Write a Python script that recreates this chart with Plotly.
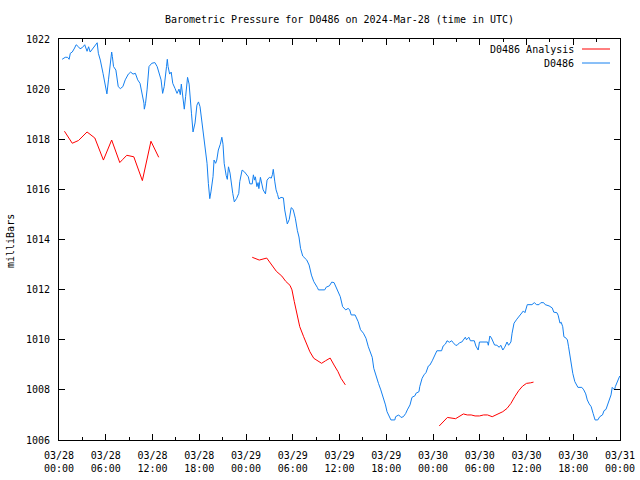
import pandas as pd
import plotly.graph_objects as go

BASE = pd.Timestamp("2024-03-28 00:00")

# Blue series: D0486 (hours since 2024-03-28 00:00 UTC, pressure in mb)
obs_hours = [0.4, 0.8, 1.1, 1.3, 1.45, 1.7, 2.0, 2.2, 2.5, 2.7, 3.0, 3.3, 3.6, 3.8, 4.0, 4.3, 4.6, 4.9,
             5.05, 5.3, 5.65, 5.9, 6.15, 6.35, 6.6, 6.76, 6.85, 7.0, 7.3, 7.45, 7.6, 7.87, 8.2, 8.5, 8.9,
             9.2, 9.5, 9.8, 10.1, 10.4, 10.7, 10.9, 10.95, 11.1, 11.3, 11.55, 11.9, 12.3, 12.6, 12.9,
             13.1, 13.3, 13.5, 13.8, 13.9, 14.0, 14.2, 14.4, 14.6, 14.9, 15.15, 15.4, 15.57, 15.7, 15.9,
             16.08, 16.25, 16.4, 16.5, 16.7, 16.86, 17.0, 17.2, 17.46, 17.7, 17.9, 18.1, 18.25, 18.5,
             18.65, 19.0, 19.17, 19.35, 19.5, 19.77, 19.9, 20.1, 20.25, 20.45, 20.7, 20.9, 21.05, 21.2,
             21.45, 21.6, 21.75, 21.95, 22.3, 22.5, 22.8, 23.07, 23.2, 23.5, 23.8, 24.1, 24.3, 24.5,
             24.8, 24.95, 25.1, 25.2, 25.4, 25.55, 25.65, 25.85, 26.0, 26.2, 26.5, 26.7, 27.0, 27.25,
             27.4, 27.5, 27.7, 27.86, 28.05, 28.2, 28.5, 28.8, 28.97, 29.14, 29.3, 29.55, 29.8, 30.05,
             30.33, 30.6, 30.8, 31.0, 31.28, 31.8, 32.1, 32.4, 32.7, 33.15, 33.3, 34.1, 34.3, 34.7,
             35.0, 35.3, 35.6, 36.1, 36.4, 36.8, 37.1, 37.3, 37.5, 38.0, 38.4, 38.7, 39.07, 39.4, 39.7,
             39.9, 40.2, 40.4, 40.7, 41.0, 41.3, 41.6, 41.9, 42.1, 42.4, 42.6, 43.1, 43.2, 43.6, 43.9,
             44.2, 44.5, 44.7, 45.05, 45.3, 45.7, 45.8, 46.2, 46.3, 46.6, 46.85, 47.1, 47.4, 47.6, 47.9,
             48.1, 48.5, 49.1, 49.3, 49.6, 49.8, 50.1, 50.4, 50.6, 50.9, 51.1, 51.4, 51.7, 52.0, 52.15,
             52.3, 52.6, 52.8, 53.3, 53.5, 53.8, 53.96, 54.5, 55.0, 55.1, 55.3, 55.5, 55.75, 55.9, 56.2,
             56.5, 56.7, 56.96, 57.2, 57.5, 57.7, 58.0, 58.15, 58.4, 58.76, 59.1, 59.4, 59.6, 59.8, 60.1,
             60.7, 61.0, 61.3, 61.6, 61.84, 62.2, 62.4, 62.9, 63.3, 63.5, 63.9, 64.06, 64.3, 64.45,
             64.65, 64.8, 65.1, 65.25, 65.4, 65.6, 65.76, 65.94, 66.2, 66.45, 66.6, 67.1, 67.35, 67.6,
             67.8, 68.05, 68.3, 68.55, 68.8, 69.15, 69.4, 69.75, 69.95, 70.2, 70.5, 70.7, 70.85, 71.0,
             71.3, 71.4, 71.7, 71.96]
obs_values = [1021.19, 1021.27, 1021.27, 1021.19, 1021.43, 1021.48, 1021.64, 1021.77, 1021.69, 1021.61,
              1021.66, 1021.77, 1021.51, 1021.69, 1021.48, 1021.6, 1021.72, 1021.85, 1021.43, 1021.16,
              1020.63, 1020.23, 1019.81, 1020.37, 1021.16, 1021.48, 1021.3, 1020.9, 1020.76, 1020.37,
              1020.1, 1020.02, 1020.1, 1020.37, 1020.6, 1020.68, 1020.6, 1020.63, 1020.37, 1020.23,
              1019.83, 1019.44, 1019.2, 1019.42, 1019.97, 1020.9, 1021.03, 1021.06, 1020.9, 1020.63,
              1020.37, 1019.83, 1020.1, 1020.9, 1021.19, 1020.9, 1020.6, 1020.68, 1020.23, 1020.02,
              1019.83, 1020.0, 1019.78, 1020.2, 1019.57, 1019.2, 1019.7, 1020.2, 1020.47, 1020.2,
              1019.7, 1019.04, 1018.29, 1018.65, 1019.36, 1019.49, 1019.3, 1018.88, 1018.37, 1017.84,
              1017.04, 1016.24, 1015.63, 1015.9, 1016.51, 1017.17, 1017.04, 1017.17, 1017.57, 1017.8,
              1018.08, 1017.8, 1017.04, 1016.56, 1016.4, 1016.9, 1016.65, 1015.84, 1015.5, 1015.64,
              1015.84, 1016.31, 1016.77, 1016.7, 1016.58, 1016.5, 1016.22, 1016.22, 1016.58, 1016.37,
              1016.5, 1016.11, 1016.27, 1016.03, 1016.48, 1016.2, 1015.98, 1015.82, 1016.37, 1016.48,
              1016.45, 1016.6, 1016.8, 1016.3, 1015.98, 1015.8, 1015.62, 1015.68, 1015.66, 1015.18,
              1014.78, 1014.62, 1014.8, 1015.27, 1015.2, 1014.85, 1014.35, 1014.1, 1013.65, 1013.34,
              1013.18, 1012.98, 1012.58, 1012.32, 1012.09, 1011.99, 1011.99, 1012.1, 1012.15, 1012.3,
              1012.28, 1012.04, 1011.72, 1011.32, 1011.19, 1011.25, 1011.2, 1010.99, 1010.99, 1010.72,
              1010.4, 1010.26, 1010.06, 1009.72, 1009.52, 1009.3, 1008.86, 1008.53, 1008.26, 1008.0,
              1007.73, 1007.4, 1007.13, 1006.9, 1006.8, 1006.8, 1006.93, 1007.0, 1006.9, 1006.93,
              1007.06, 1007.2, 1007.4, 1007.7, 1007.77, 1007.86, 1007.93, 1008.13, 1008.46, 1008.6,
              1008.69, 1008.95, 1008.99, 1009.16, 1009.3, 1009.56, 1009.56, 1009.75, 1009.83, 1009.96,
              1009.9, 1009.96, 1009.88, 1009.78, 1009.78, 1009.88, 1009.91, 1010.04, 1010.1, 1010.0,
              1010.1, 1009.96, 1009.96, 1009.75, 1009.59, 1009.91, 1009.91, 1009.91, 1009.78, 1010.15,
              1010.07, 1009.91, 1009.79, 1009.78, 1009.7, 1009.78, 1009.59, 1009.7, 1009.91, 1009.78,
              1009.91, 1010.26, 1010.66, 1010.82, 1010.95, 1011.08, 1011.15, 1011.08, 1011.4, 1011.4,
              1011.48, 1011.4, 1011.4, 1011.48, 1011.48, 1011.4, 1011.35, 1011.27, 1011.1, 1011.08,
              1010.98, 1010.66, 1010.7, 1010.52, 1010.12, 1010.06, 1009.99, 1009.72, 1009.32, 1008.92,
              1008.66, 1008.33, 1008.15, 1008.1, 1008.1, 1008.0, 1007.84, 1007.6, 1007.44, 1007.33,
              1007.06, 1006.8, 1006.8, 1006.93, 1007.0, 1007.17, 1007.22, 1007.46, 1007.6, 1007.8,
              1008.1, 1008.0, 1008.13, 1008.33, 1008.55]

# Red series: D0486 Analysis (None marks gaps between segments)
ana_hours = [0.7, 1.7, 2.5, 3.6, 4.6, 5.7, 6.76, 7.8, 8.2, 8.7, 9.6, 10.7, 11.8, 12.8,
             13.5,
             24.8, 25.7, 26.66, 27.5, 27.9, 28.6, 29.1, 29.65, 29.9, 30.2, 30.5, 30.9, 31.4, 31.8,
             32.2, 32.7, 33.15, 33.7, 34.2, 34.8, 35.3, 35.8, 36.2, 36.75,
             42.0,
             48.8, 49.3, 49.85, 50.9, 51.4, 51.9, 52.4, 52.9, 53.4, 53.96, 54.5, 55.0, 55.6, 56.4,
             56.96, 57.5, 58.0, 58.5, 59.0, 59.5, 60.0, 60.5, 60.9]
ana_values = [1018.32, 1017.84, 1017.95, 1018.29, 1018.05, 1017.17, 1017.97, 1017.07, 1017.2,
              1017.36, 1017.3, 1016.35, 1017.92, 1017.28,
              None,
              1013.29, 1013.18, 1013.26, 1012.89, 1012.73, 1012.54, 1012.33, 1012.17, 1011.99,
              1011.52, 1011.06, 1010.52, 1010.12, 1009.79, 1009.52, 1009.26, 1009.16, 1009.06,
              1009.16, 1009.27, 1008.99, 1008.73, 1008.46, 1008.2,
              None,
              1006.56, 1006.73, 1006.9, 1006.85, 1006.96, 1007.04, 1007.0, 1007.0, 1006.96, 1006.96,
              1007.0, 1007.0, 1006.93, 1007.04, 1007.13, 1007.26, 1007.46, 1007.73, 1007.97, 1008.15,
              1008.26, 1008.28, 1008.31]

tick_hours = [0, 6, 12, 18, 24, 30, 36, 42, 48, 54, 60, 66, 72]
tick_labels = ["03/28<br>00:00", "03/28<br>06:00", "03/28<br>12:00", "03/28<br>18:00",
               "03/29<br>00:00", "03/29<br>06:00", "03/29<br>12:00", "03/29<br>18:00",
               "03/30<br>00:00", "03/30<br>06:00", "03/30<br>12:00", "03/30<br>18:00",
               "03/31<br>00:00"]

series_names = ["D0486 Analysis", "D0486"]
series_colors = ["#ff0000", "#1480f0"]


def to_time(hours):
    return [BASE + pd.Timedelta(hours=h) for h in hours]


FONT = "DejaVu Sans Mono"

fig = go.Figure()
fig.add_trace(go.Scatter(x=to_time(ana_hours), y=ana_values, mode="lines",
                         line=dict(color=series_colors[0], width=1), connectgaps=False,
                         name=series_names[0], showlegend=False))
fig.add_trace(go.Scatter(x=to_time(obs_hours), y=obs_values, mode="lines",
                         line=dict(color=series_colors[1], width=1),
                         name=series_names[1], showlegend=False))

L, R, T, B = 59, 620, 39, 440
W, H = 640, 480


def px(x):
    return (x - L) / (R - L)


def py(y):
    return (B - y) / (B - T)


# legend (gnuplot style: text then line sample)
for i, (nm, col) in enumerate(zip(series_names, series_colors)):
    yy = 49 + 14 * i
    fig.add_annotation(x=px(576), y=py(yy), xref="paper", yref="paper", text=nm,
                       showarrow=False, xanchor="right", yanchor="middle",
                       font=dict(family=FONT, size=10, color="black"))
    fig.add_shape(type="line", xref="paper", yref="paper", x0=px(582), x1=px(610),
                  y0=py(yy), y1=py(yy), line=dict(color=col, width=1))

fig.add_annotation(x=px(11), y=py(241), xref="paper", yref="paper", text="milliBars",
                   showarrow=False, textangle=-90, xanchor="center", yanchor="middle",
                   font=dict(family=FONT, size=10, color="black"))

fig.update_layout(
    width=W, height=H,
    margin=dict(l=L, r=W - R, t=T, b=H - B, autoexpand=False),
    paper_bgcolor="white", plot_bgcolor="white",
    font=dict(family=FONT, size=10, color="black"),
    title=dict(text="Barometric Pressure for D0486 on 2024-Mar-28 (time in UTC)",
               x=0.5, xref="paper", y=1 - 19 / H, yref="container", yanchor="middle",
               font=dict(family=FONT, size=10, color="black")),
    showlegend=False,
)
fig.update_xaxes(
    type="date", automargin=False,
    range=[BASE, BASE + pd.Timedelta(hours=72)],
    tickvals=to_time(tick_hours), ticktext=tick_labels,
    ticks="inside", ticklen=6, tickcolor="black", tickwidth=1,
    ticklabelstandoff=6,
    minor=dict(dtick=3 * 3600 * 1000, ticks="inside", ticklen=3, tickcolor="black",
               showgrid=False),
    showline=True, linecolor="black", linewidth=1, mirror="ticks",
    showgrid=False, zeroline=False,
    tickfont=dict(family=FONT, size=10, color="black"),
)
fig.update_yaxes(
    range=[1006, 1022], dtick=2, tick0=1006, automargin=False,
    ticks="inside", ticklen=6, tickcolor="black", tickwidth=1,
    ticklabelstandoff=6,
    showline=True, linecolor="black", linewidth=1, mirror="ticks",
    showgrid=False, zeroline=False,
    tickfont=dict(family=FONT, size=10, color="black"),
)

fig.write_html("out.html")
